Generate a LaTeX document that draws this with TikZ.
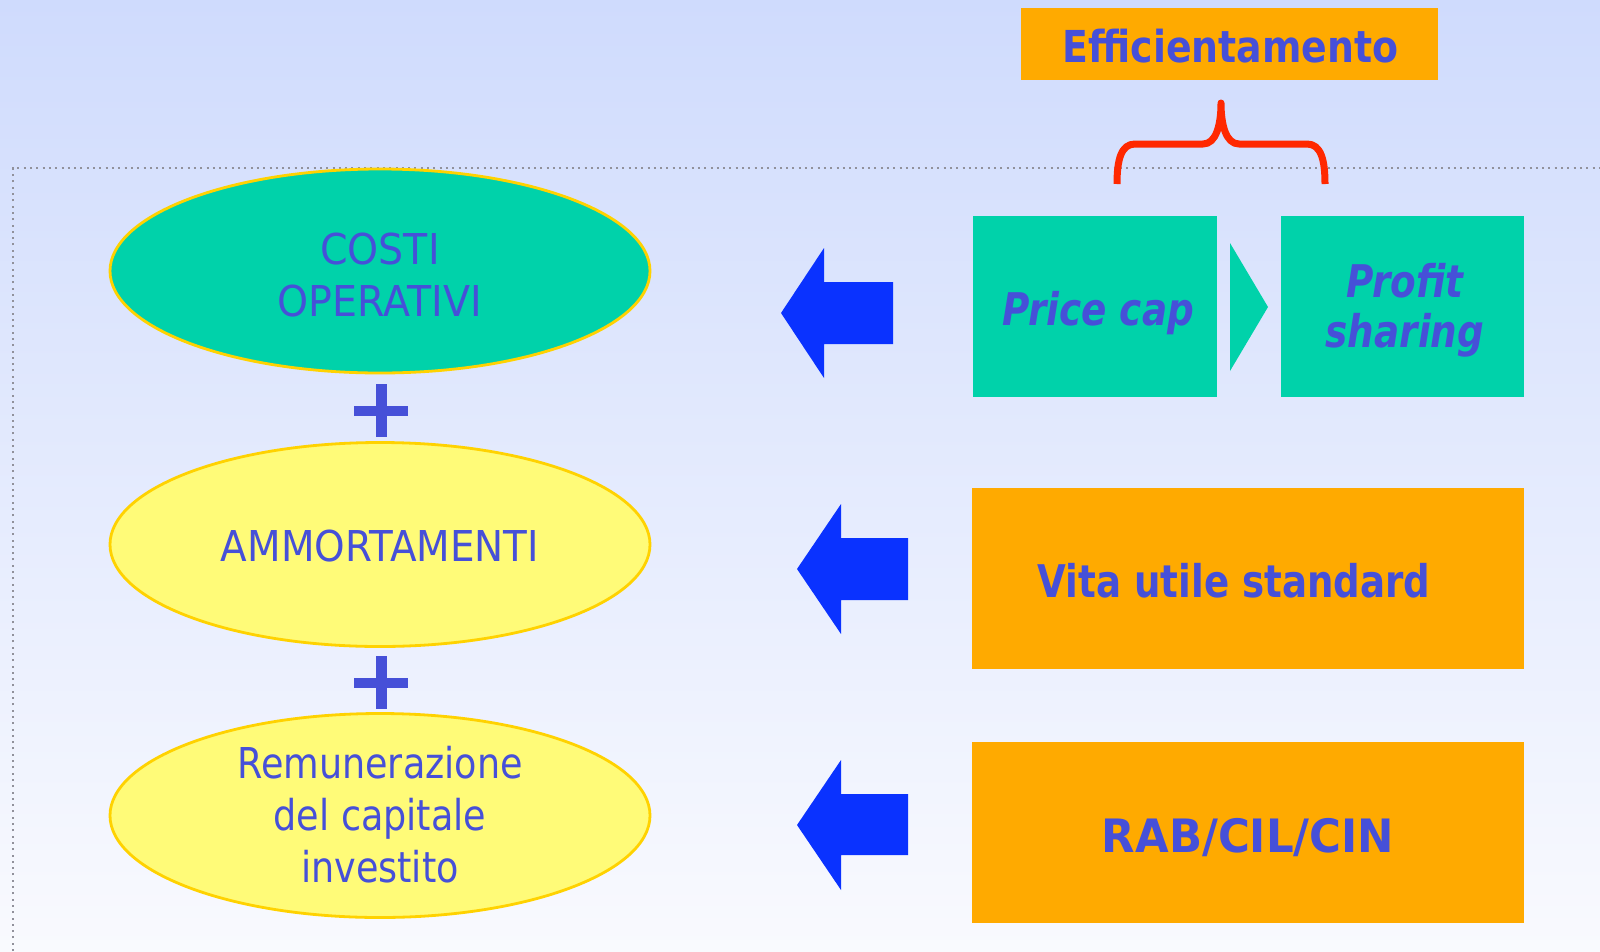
\documentclass[tikz,border=0pt]{standalone}
\usepackage{fontspec}
\setmainfont{DejaVu Sans}
\usetikzlibrary{shapes.geometric}
\definecolor{bgtop}{RGB}{207,219,253}
\definecolor{bgbot}{RGB}{249,250,254}
\definecolor{cteal}{RGB}{0,210,170}
\definecolor{corange}{RGB}{255,170,0}
\definecolor{cyellow}{RGB}{255,251,120}
\definecolor{cyborder}{RGB}{255,210,0}
\definecolor{ctext}{RGB}{70,80,216}
\definecolor{cblue}{RGB}{10,50,255}
\definecolor{cred}{RGB}{255,40,0}
\definecolor{cdots}{RGB}{145,145,155}
\newcommand\hsx[2]{\scalebox{#1}[1]{#2}}
\begin{document}
\begin{tikzpicture}[x=1pt,y=-1pt,
  ell/.style={ellipse, draw=cyborder, line width=2.8pt, minimum width=540pt, minimum height=204pt, inner sep=0pt},
  rbox/.style={rectangle, inner sep=0pt, outer sep=0pt},
  regtxt/.style={text=ctext, inner sep=0pt, font=\fontsize{42.5}{52}\selectfont},
  boldtxt/.style={text=ctext, inner sep=0pt, font=\fontsize{45}{50}\selectfont\bfseries},
  bitxt/.style={text=ctext, inner sep=0pt, font=\fontsize{45}{50}\selectfont\bfseries\itshape},
  blockarrow/.style={fill=cblue},
  bracestyle/.style={draw=cred, line width=7pt, line join=round}
]
\useasboundingbox (0,0) rectangle (1600,951);
\shade[top color=bgtop, bottom color=bgbot] (0,0) rectangle (1600,951);
% dotted frame
\draw[cdots, line width=2pt, dash pattern=on 2pt off 4.3pt] (13,951) -- (13,168) -- (1600,168);

% ellipses
\node[ell, fill=cteal] (costi) at (380,271) {};
\node[ell, fill=cyellow] (amm) at (380,544.5) {};
\node[ell, fill=cyellow] (rem) at (380,815.5) {};
\node[regtxt] (costitxt) at (380,280) {\hsx{0.93}{\begin{tabular}{@{}c@{}}COSTI\\OPERATIVI\end{tabular}}};
\node[regtxt, anchor=base] (ammtxt) at (380,561) {\hsx{0.915}{AMMORTAMENTI}};
\node[regtxt] (remtxt) at (380,819.6) {\hsx{0.86}{\begin{tabular}{@{}c@{}}Remunerazione\\del capitale\\investito\end{tabular}}};

% plus signs
\fill[ctext] (375.7,384) rectangle (386.7,437);
\fill[ctext] (354,405.7) rectangle (408,416.3);
\fill[ctext] (375.7,656) rectangle (386.7,709);
\fill[ctext] (354,677.7) rectangle (408,688.3);

% block arrows
\fill[blockarrow] (781,313) -- (824,248) -- (824,282) -- (893,282) -- (893,344) -- (824,344) -- (824,378) -- cycle;
\fill[blockarrow] (797,569) -- (841,504) -- (841,538) -- (908,538) -- (908,600) -- (841,600) -- (841,634) -- cycle;
\fill[blockarrow] (797,825) -- (841,760) -- (841,794) -- (908,794) -- (908,855) -- (841,855) -- (841,890) -- cycle;

% right boxes
\node[rbox, fill=cteal, minimum width=244pt, minimum height=181pt] (price) at (1095,306.5) {};
\node[rbox, fill=cteal, minimum width=243pt, minimum height=181pt] (profit) at (1402.5,306.5) {};
\fill[cteal] (1230,243) -- (1268,307) -- (1230,371) -- cycle;
\node[bitxt, anchor=base] (pricetxt) at (1098,325) {\hsx{0.83}{Price cap}};
\node[bitxt] (profittxt) at (1405,312) {\hsx{0.83}{\begin{tabular}{@{}c@{}}Profit\\sharing\end{tabular}}};

\node[rbox, fill=corange, minimum width=552pt, minimum height=181pt] (vita) at (1248,578.5) {};
\node[boldtxt, anchor=base] (vitatxt) at (1234,597) {\hsx{0.826}{Vita utile standard}};
\node[rbox, fill=corange, minimum width=552pt, minimum height=181pt] (rab) at (1248,832.5) {};
\node[boldtxt, anchor=base, font=\fontsize{46}{50}\selectfont\bfseries] (rabtxt) at (1248,852) {\hsx{0.945}{RAB/CIL/CIN}};

% top label
\node[rbox, fill=corange, minimum width=417pt, minimum height=72pt] (eff) at (1229.5,44) {};
\node[boldtxt, anchor=base, font=\fontsize{44}{50}\selectfont\bfseries] (efftxt) at (1230.5,62) {\hsx{0.86}{Efficientamento}};

% brace
\draw[bracestyle] (1117,184) .. controls (1117,160) and (1121,144) .. (1135,144) -- (1203,144)
  .. controls (1216,144) and (1221,125) .. (1221,103)
  .. controls (1221,125) and (1226,144) .. (1239,144) -- (1307,144)
  .. controls (1321,144) and (1325,160) .. (1325,184);
\end{tikzpicture}
\end{document}
